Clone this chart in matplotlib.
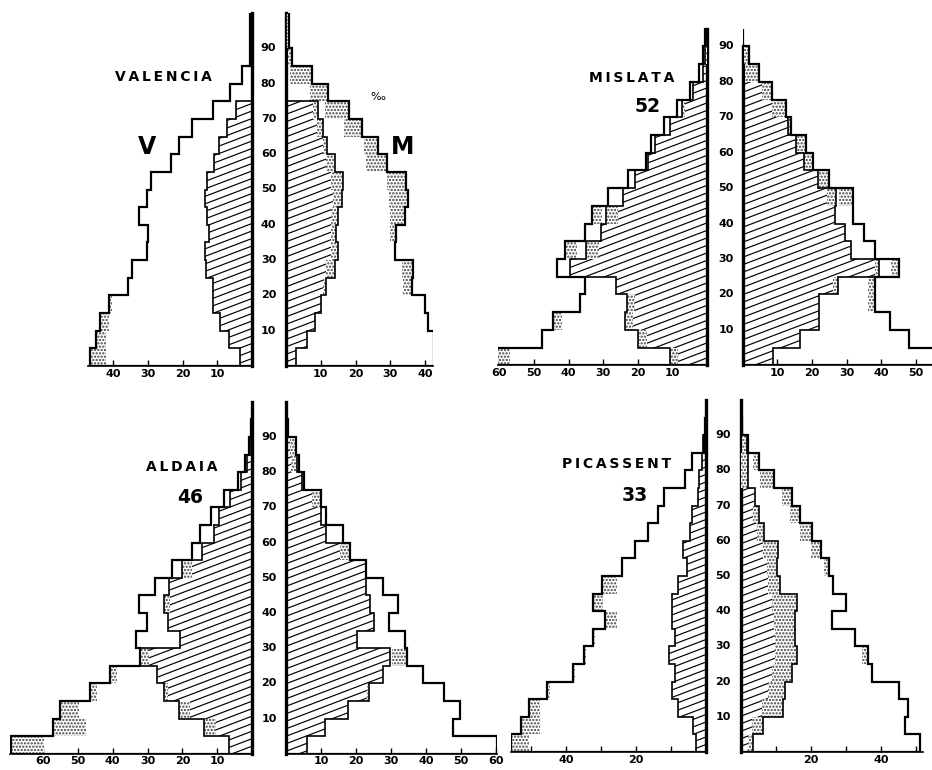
import numpy as np
import matplotlib
matplotlib.use("Agg")
import matplotlib.pyplot as plt
import matplotlib.transforms as mtransforms
from matplotlib.path import Path
from matplotlib.patches import PathPatch
from matplotlib.collections import LineCollection

# age groups 0-4 ... 85-89, 90+  (per mil of population)
# tot = outer outline, hat = hatched area, s_in = dotted part at the end of the
# hatched area, s_out = dotted part at the end of the outline
val_v_tot = [46.7, 45.1, 43.8, 41.3, 35.7, 34.7, 30.4, 30.0, 32.6, 30.4, 29.0, 23.5, 21.1, 17.2, 11.3, 6.3, 2.9, 0.6, 0.6]
val_v_hat = [3.6, 6.5, 9.2, 11.2, 11.2, 13.3, 13.5, 12.3, 13.0, 13.5, 13.0, 11.1, 9.5, 7.3, 4.5, 0, 0, 0, 0]
val_v_sin = [0] * 19
val_v_sout = [4.5, 3.0, 2.6, 0.8, 0, 0, 0, 0, 0, 0, 0, 0, 0, 0, 0, 0, 0, 0, 0]
val_m_tot = [42.5, 42.5, 40.9, 39.9, 36.1, 36.6, 31.3, 31.5, 34.2, 35.0, 34.5, 28.9, 26.3, 21.7, 18.1, 12.1, 7.5, 1.6, 1.0]
val_m_hat = [3.0, 6.0, 8.3, 10.2, 11.5, 14.0, 15.0, 14.5, 15.0, 16.0, 16.5, 14.0, 11.7, 10.5, 9.3, 0, 0, 0, 0]
val_m_sin = [0, 0, 0, 0, 0.8, 2.5, 2.0, 1.5, 2.0, 2.4, 3.5, 2.5, 1.2, 1.5, 1.5, 0, 0, 0, 0]
val_m_sout = [0, 0, 0, 0, 2.4, 3.2, 0, 1.5, 4.2, 5.5, 5.5, 5.9, 3.8, 4.9, 6.9, 5.3, 6.3, 1.0, 1.0]

mis_v_tot = [60.6, 47.8, 44.4, 36.7, 35.3, 43.3, 41.0, 35.2, 33.3, 28.6, 23.0, 17.7, 16.3, 12.4, 8.6, 5.0, 2.3, 1.2, 0.6]
mis_v_hat = [10.8, 19.9, 23.8, 23.3, 26.2, 39.6, 35.0, 30.7, 29.2, 24.2, 20.8, 17.0, 15.0, 10.8, 7.3, 4.2, 1.2, 0.6, 0.3]
mis_v_sin = [2.4, 2.4, 2.4, 2.4, 0, 0, 3.8, 0, 3.3, 0, 0, 0, 0, 0, 0.8, 0, 0, 0.4, 0]
mis_v_sout = [3.6, 0, 2.4, 0, 0, 0, 3.4, 0, 3.0, 0, 0, 0, 0, 0, 0, 0, 0, 0, 0]
mis_m_tot = [56.0, 48.0, 42.5, 38.3, 38.3, 45.2, 38.3, 35.0, 31.7, 31.7, 25.0, 20.2, 18.3, 13.9, 12.5, 8.5, 4.6, 1.7, 0]
mis_m_hat = [8.7, 16.6, 21.9, 21.9, 27.4, 39.4, 31.2, 29.6, 26.7, 26.8, 21.6, 17.8, 15.4, 13.0, 12.5, 8.5, 4.6, 1.7, 0]
mis_m_sin = [0, 0, 0, 0, 1.4, 1.2, 0, 0, 0, 2.5, 0, 0, 0, 0, 4.0, 3.0, 3.8, 1.2, 0]
mis_m_sout = [0, 0, 0, 2.2, 2.2, 2.4, 0, 0, 0, 3.8, 3.0, 2.4, 2.9, 0.9, 0, 0, 0, 0, 0]

ald_v_tot = [69.2, 57.1, 55.2, 46.6, 40.7, 32.1, 33.2, 30.1, 32.5, 27.8, 23.0, 17.2, 15.0, 11.8, 7.9, 4.1, 1.9, 1.0, 0.4]
ald_v_hat = [6.7, 13.7, 21.0, 25.2, 27.3, 32.1, 20.6, 24.0, 25.4, 23.9, 20.1, 14.4, 11.0, 9.6, 6.2, 3.3, 1.4, 0.7, 0.3]
ald_v_sin = [0, 3.4, 3.3, 1.2, 0, 2.4, 0, 0, 1.9, 0, 2.9, 0, 0, 0, 0, 0, 0, 0, 0]
ald_v_sout = [9.4, 9.3, 5.5, 2.0, 1.9, 0, 0, 0, 0, 0, 0, 0, 0, 0, 0, 0, 0, 0, 0]
ald_m_tot = [60.2, 47.8, 49.7, 45.0, 39.2, 34.5, 34.0, 29.5, 32.1, 27.8, 22.9, 18.3, 16.4, 11.4, 9.9, 5.0, 3.8, 2.9, 0.7]
ald_m_hat = [5.9, 11.1, 17.8, 23.8, 27.8, 29.7, 20.2, 25.0, 24.0, 22.9, 22.9, 18.3, 11.4, 9.9, 9.9, 4.5, 3.0, 2.9, 0.4]
ald_m_sin = [0, 0, 0, 0.8, 0, 0, 0, 0, 0, 0, 0, 2.9, 0, 0, 2.6, 0, 1.5, 1.8, 0]
ald_m_sout = [0, 0, 0, 0, 0, 4.3, 0, 0, 0, 0, 0, 0, 0, 0, 0, 0, 0, 0, 0]

pic_v_tot = [55.7, 52.9, 50.6, 45.5, 37.9, 34.8, 32.2, 28.9, 32.2, 29.6, 23.9, 20.3, 16.5, 13.6, 12.0, 6.0, 4.1, 0.6, 0.4]
pic_v_hat = [3.0, 3.6, 7.9, 9.8, 8.9, 10.5, 8.9, 9.7, 9.8, 7.9, 5.5, 6.7, 4.6, 4.1, 2.2, 1.9, 1.2, 0.8, 0.4]
pic_v_sin = [0] * 19
pic_v_sout = [5.0, 5.4, 3.1, 0.8, 0.6, 0.5, 0.5, 3.6, 2.9, 4.1, 0, 0, 0, 0, 0, 0, 0, 0, 0]
pic_m_tot = [51.1, 46.9, 47.6, 45.0, 37.3, 36.4, 32.6, 25.9, 30.0, 26.4, 25.0, 22.9, 20.2, 16.9, 14.5, 9.5, 5.1, 2.1, 0.4]
pic_m_hat = [3.5, 6.4, 12.1, 12.6, 14.5, 15.9, 15.4, 15.4, 15.9, 11.1, 10.2, 10.7, 6.7, 5.0, 4.0, 2.0, 2.0, 1.8, 0.3]
pic_m_sin = [1.4, 3.3, 6.2, 4.8, 5.7, 6.2, 5.7, 6.0, 7.1, 3.3, 2.9, 4.3, 2.0, 1.5, 0, 2.0, 2.0, 1.5, 0]
pic_m_sout = [0, 0, 0, 0, 0, 1.9, 0, 0, 0, 0, 1.4, 2.9, 3.3, 2.9, 2.9, 4.1, 1.6, 1.4, 0]

age_labels = [10, 20, 30, 40, 50, 60, 70, 80, 90]

W, H = 932, 770
fig = plt.figure(figsize=(W / 100, H / 100), dpi=100)
FONT = "DejaVu Sans"
STIP = "0.25"
plt.rcParams["hatch.linewidth"] = 1.1


def make_ax(x0, x1, age0, ppy):
    top = age0 - 100 * ppy
    return fig.add_axes([x0 / W, 1 - age0 / H, (x1 - x0) / W, (age0 - top) / H])


def draw_side(ax, tot, hat, s_in, s_out, edges):
    lo, hi = edges[:-1], edges[1:]
    verts, codes = [], []
    for v, a, b in zip(hat, lo, hi):
        if v <= 0:
            continue
        verts += [(0, a), (v, a), (v, b), (0, b), (0, a)]
        codes += [Path.MOVETO, Path.LINETO, Path.LINETO, Path.LINETO, Path.CLOSEPOLY]
    clip = PathPatch(Path(verts, codes), transform=ax.transData,
                     facecolor="none", edgecolor="none")
    ax.add_patch(clip)
    # shallow diagonal hatching, clipped to the hatched bars
    pos = ax.get_position()
    wpx, hpx = pos.width * W, pos.height * H
    k = 0.38 * wpx / hpx
    step = 7.5 / hpx
    segs = [[(0, b), (1, b + k)] for b in np.arange(-k, 1 + step, step)]
    lc = LineCollection(segs, transform=ax.transAxes, colors="black",
                        linewidths=0.85, zorder=2)
    ax.add_collection(lc, autolim=False)
    lc.set_clip_path(clip)

    for a, b, v, si, t, so in zip(lo, hi, hat, s_in, tot, s_out):
        if si > 0:
            ax.barh(a, si, left=v - si, height=b - a, align="edge", facecolor="white",
                    edgecolor=STIP, hatch=".....", linewidth=0, zorder=3)
        if so > 0:
            ax.barh(a, so, left=t - so, height=b - a, align="edge", facecolor="white",
                    edgecolor=STIP, hatch=".....", linewidth=0, zorder=3)

    ax.stairs(hat, edges, orientation="horizontal", baseline=0, fill=False,
              color="black", linewidth=1.2, zorder=4)
    ax.stairs(tot, edges, orientation="horizontal", baseline=0, fill=False,
              color="black", linewidth=1.6, zorder=5)


def pyramid(data, lay):
    (vt, vh, vi, vo), (mt, mh, mi, mo) = data
    edges = lay["edges"]
    axl = make_ax(lay["lzero"] - lay["lmax"] * lay["lscale"], lay["lzero"], lay["age0"], lay["ppy"])
    axr = make_ax(lay["rzero"], lay["rzero"] + lay["rmax"] * lay["rscale"], lay["age0"], lay["ppy"])
    for ax, side in ((axl, "l"), (axr, "r")):
        ax.set_facecolor("none")
        ax.set_xlim(0, lay[side + "max"])
        ax.set_ylim(0, 100)
    axl.invert_xaxis()
    draw_side(axl, vt, vh, vi, vo, edges)
    draw_side(axr, mt, mh, mi, mo, edges)

    for ax, inner, outer, side in ((axl, "right", "left", "l"), (axr, "left", "right", "r")):
        ax.spines["top"].set_visible(False)
        ax.spines[outer].set_visible(False)
        ax.spines[inner].set_linewidth(2.4)
        ax.spines[inner].set_bounds(0, lay[side + "top"])
        ax.spines["bottom"].set_linewidth(1.2)
        ax.set_yticks([])
        ticks, labels = lay[side + "ticks"]
        ax.set_xticks(ticks)
        ax.set_xticklabels(labels, fontsize=8, fontweight="bold", family=FONT)
        ax.tick_params(axis="x", direction="in", length=4, width=1, pad=2)

    trans = mtransforms.blended_transform_factory(fig.transFigure, axr.transData)
    for a in age_labels:
        fig.text(lay["cx"] / W, a, str(a), transform=trans, ha="center", va="center",
                 fontsize=8, fontweight="bold", family=FONT)


towns = [
    ((val_v_tot, val_v_hat, val_v_sin, val_v_sout), (val_m_tot, val_m_hat, val_m_sin, val_m_sout),
     dict(edges=list(range(0, 95, 5)) + [100], age0=366, ppy=3.53,
          lzero=252, lscale=3.467, lmax=47.3, rzero=286, rscale=3.48, rmax=42.2,
          ltop=100, rtop=100, cx=268.5,
          lticks=([10, 20, 30, 40], ["10", "20", "30", "40"]),
          rticks=([10, 20, 30, 40], ["10", "20", "30", "40"]))),
    ((mis_v_tot, mis_v_hat, mis_v_sin, mis_v_sout), (mis_m_tot, mis_m_hat, mis_m_sin, mis_m_sout),
     dict(edges=list(range(0, 100, 5)), age0=365.3, ppy=3.543,
          lzero=707.3, lscale=3.467, lmax=60.5, rzero=742.7, rscale=3.467, rmax=54.6,
          ltop=95, rtop=90, cx=726,
          lticks=([10, 20, 30, 40, 50, 60], ["10", "20", "30", "40", "50", "60"]),
          rticks=([10, 20, 30, 40, 50], ["10", "20", "30", "40", "50"]))),
    ((ald_v_tot, ald_v_hat, ald_v_sin, ald_v_sout), (ald_m_tot, ald_m_hat, ald_m_sin, ald_m_sout),
     dict(edges=list(range(0, 100, 5)), age0=753.7, ppy=3.52,
          lzero=252, lscale=3.483, lmax=69.5, rzero=286, rscale=3.5, rmax=60.2,
          ltop=100, rtop=100, cx=269,
          lticks=([10, 20, 30, 40, 50, 60], ["10", "20", "30", "40", "50", "60"]),
          rticks=([10, 20, 30, 40, 50, 60], ["10", "20", "30", "40", "50", "60"]))),
    ((pic_v_tot, pic_v_hat, pic_v_sin, pic_v_sout), (pic_m_tot, pic_m_hat, pic_m_sin, pic_m_sout),
     dict(edges=list(range(0, 100, 5)), age0=752, ppy=3.52,
          lzero=706, lscale=3.5, lmax=55.7, rzero=741, rscale=3.5, rmax=52,
          ltop=100, rtop=100, cx=723,
          lticks=([10, 20, 30, 40, 50], ["", "20", "", "40", ""]),
          rticks=([10, 20, 30, 40, 50], ["", "20", "", "40", ""]))),
]

for v, m, lay in towns:
    pyramid((v, m), lay)


def spaced(s):
    return "\u2009".join(s)


def ftext(x, y, s, **kw):
    fig.text(x / W, 1 - y / H, s, ha="center", va="center", family=FONT, **kw)


ftext(163, 77, spaced("VALENCIA"), fontsize=10, fontweight="bold")
ftext(632, 78, spaced("MISLATA"), fontsize=10, fontweight="bold")
ftext(182, 467, spaced("ALDAIA"), fontsize=10, fontweight="bold")
ftext(617, 464, spaced("PICASSENT"), fontsize=10, fontweight="bold")
ftext(648, 107, "52", fontsize=13.5, fontweight="bold")
ftext(190, 497, "46", fontsize=13.5, fontweight="bold")
ftext(635, 495, "33", fontsize=13.5, fontweight="bold")
ftext(147, 147, "V", fontsize=17, fontweight="bold")
ftext(403, 147, "M", fontsize=17, fontweight="bold")
ftext(378, 97, "\u2030", fontsize=8)

fig.savefig("out.png", dpi=100, facecolor="white")
